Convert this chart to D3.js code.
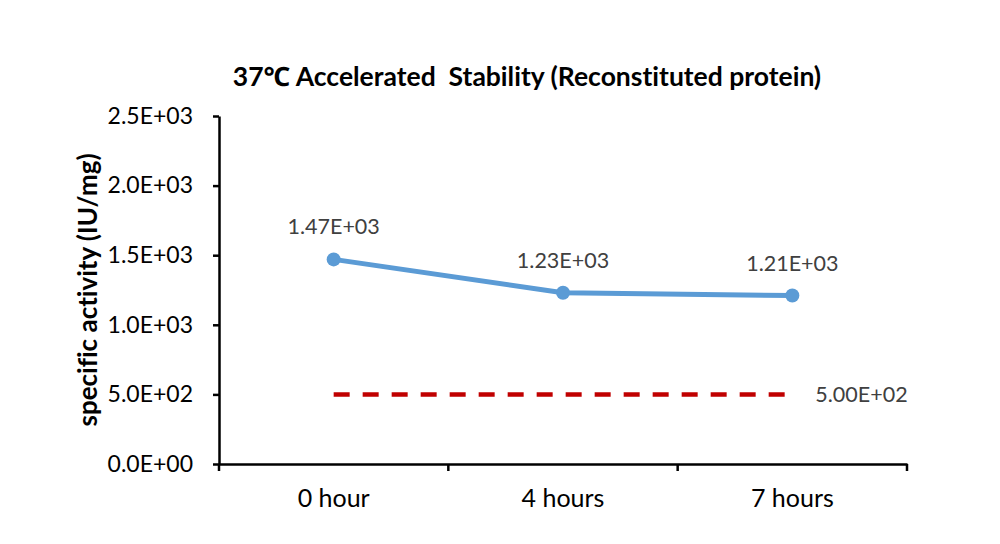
<!DOCTYPE html>
<html><head><meta charset="utf-8">
<script src="https://cdn.jsdelivr.net/npm/d3@7"></script>
<style>body{margin:0;background:#fff;} svg{display:block;} text{font-variant-ligatures:none;font-feature-settings:"liga" 0;}</style>
</head><body>
<svg id="chart" width="1000" height="544"></svg>
<script>
const categories = ["0 hour", "4 hours", "7 hours"];
const activity = [1470, 1230, 1210];
const activityLabels = ["1.47E+03", "1.23E+03", "1.21E+03"];
const threshold = 500;
const thresholdLabel = "5.00E+02";
const yTicks = [0, 500, 1000, 1500, 2000, 2500];
const yTickLabels = ["0.0E+00", "5.0E+02", "1.0E+03", "1.5E+03", "2.0E+03", "2.5E+03"];
const title = "37\u2103 Accelerated  Stability (Reconstituted protein)";
const yTitle = "specific activity (IU/mg)";

const font = "Lato, 'Noto Sans', sans-serif";
const svg = d3.select("#chart");
const plotLeft = 219, plotRight = 907, plotTop = 116, plotBottom = 464;

const x = d3.scaleBand().domain(categories).range([plotLeft, plotRight]).padding(0);
const y = d3.scaleLinear().domain([0, 2500]).range([plotBottom, plotTop]);

// y axis
const yAxis = svg.append("g").attr("transform", `translate(${plotLeft},0)`)
  .call(d3.axisLeft(y).tickValues(yTicks).tickSize(6).tickSizeOuter(0)
    .tickFormat((d, i) => yTickLabels[i]));
yAxis.select(".domain").attr("stroke", "#000").attr("stroke-width", 2.5);
yAxis.selectAll(".tick line").attr("stroke", "#000").attr("stroke-width", 2.5);
yAxis.selectAll(".tick text").attr("font-family", font).attr("font-size", 23)
  .attr("fill", "#000").attr("x", -26);

// x axis
const xAxis = svg.append("g").attr("transform", `translate(0,${plotBottom})`)
  .call(d3.axisBottom(x).tickSize(0).tickSizeOuter(0));
xAxis.select(".domain").attr("stroke", "#000").attr("stroke-width", 2.5);
xAxis.selectAll(".tick text").attr("font-family", font).attr("font-size", 25)
  .attr("fill", "#000").attr("dy", 0).attr("y", 43);
// boundary ticks between categories
const bounds = categories.map(c => x(c)).concat([x(categories[categories.length - 1]) + x.bandwidth()]);
svg.append("g").selectAll("line").data(bounds).join("line")
  .attr("x1", d => d).attr("x2", d => d)
  .attr("y1", plotBottom).attr("y2", plotBottom + 7)
  .attr("stroke", "#000").attr("stroke-width", 2.5);

const cx = c => x(c) + x.bandwidth() / 2;

// threshold dashed line
svg.append("line")
  .attr("x1", cx(categories[0])).attr("x2", cx(categories[2]))
  .attr("y1", y(threshold)).attr("y2", y(threshold))
  .attr("stroke", "#C00000").attr("stroke-width", 4.5)
  .attr("stroke-dasharray", "16,13");
svg.append("text").attr("x", cx(categories[2]) + 23).attr("y", y(threshold))
  .attr("dy", "0.35em").attr("font-family", font).attr("font-size", 21.5)
  .attr("fill", "#404040").text(thresholdLabel);

// data line
const data = categories.map((c, i) => ({c, v: activity[i], l: activityLabels[i]}));
svg.append("path").datum(data)
  .attr("d", d3.line().x(d => cx(d.c)).y(d => y(d.v)))
  .attr("fill", "none").attr("stroke", "#5B9BD5").attr("stroke-width", 5)
  .attr("stroke-linejoin", "round");
svg.append("g").selectAll("circle").data(data).join("circle")
  .attr("cx", d => cx(d.c)).attr("cy", d => y(d.v)).attr("r", 7)
  .attr("fill", "#5B9BD5");
svg.append("g").selectAll("text").data(data).join("text")
  .attr("x", d => cx(d.c)).attr("y", d => y(d.v) - 25)
  .attr("text-anchor", "middle").attr("font-family", font).attr("font-size", 21.5)
  .attr("fill", "#404040").text(d => d.l);

// titles
svg.append("text").attr("x", 527).attr("y", 86).attr("text-anchor", "middle")
  .style("white-space", "pre")
  .attr("font-family", font).attr("font-weight", "bold").attr("font-size", 26.5)
  .attr("fill", "#000").text(title);
svg.append("text").attr("transform", `translate(97,${(plotTop + plotBottom) / 2}) rotate(-90)`)
  .attr("text-anchor", "middle").attr("font-family", font).attr("font-weight", "bold")
  .attr("font-size", 26).attr("fill", "#000").text(yTitle);
</script>
</body></html>
